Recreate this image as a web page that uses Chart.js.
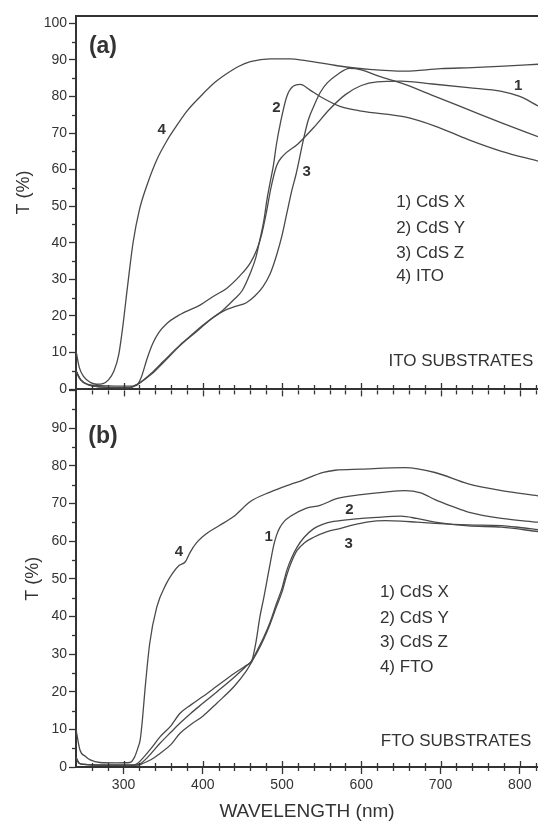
<!DOCTYPE html>
<html>
<head>
<meta charset="utf-8">
<script src="https://cdn.jsdelivr.net/npm/chart.js@4.4.1/dist/chart.umd.min.js"></script>
<style>
  html, body { margin: 0; padding: 0; background: #fff; }
  #wrap { position: relative; width: 538px; height: 825px; overflow: hidden; }
  #wrap canvas { position: absolute; left: 0; }
  #panelA { top: 0; }
  #panelB { top: 380px; }
</style>
</head>
<body>
<div id="wrap">
  <canvas id="panelA" width="538" height="400"></canvas>
  <canvas id="panelB" width="538" height="445"></canvas>
</div>
<script>
/* Transmittance spectra of CdS films, (a) on ITO and (b) on FTO.
   Values, wavelength in nm, T in %. */

// ---- panel (a): ITO substrates ----
const aX_nm = [240,244,250,258,270,290,305,312,316,322,330,337,344,355,367,380,397,413,430,447,460,468,474,480,486,493,500,520,540,560,580,600,620,650,690,735,777,800,823];
const aX_T  = [5,3,1.8,1.1,0.9,0.8,0.8,0.8,0.9,3,8.5,12.5,15.3,18,19.8,21.3,23,25.3,27.5,31,34.5,38,42,48,55,61,63.5,67,71.5,76.5,80.5,83,84,84.2,83.4,82.4,81.4,80,77.4];

const aY_nm = [240,246,255,270,290,308,314,320,335,350,371,390,409,425,439,450,460,467,472,477,481,485,489,493,498,506,514,523,535,548,573,600,655,693,735,777,823];
const aY_T  = [5,2.5,1.2,0.6,0.4,0.4,0.9,1.6,4.3,7.5,12,15.3,18.9,21.5,24.4,27,31.7,36,40.8,46,51.8,56.5,61,67,72.8,80,82.8,83.3,81.8,80,77.3,76,74.4,71.9,68.2,65,62.3];

const aZ_nm = [240,246,255,270,290,308,314,320,335,350,371,390,409,426,440,455,466,476,485,493,500,506,512,518,527,533,540,548,557,570,585,600,621,655,693,735,777,823];
const aZ_T  = [5,2.5,1.2,0.6,0.4,0.4,0.9,1.6,4.0,7.2,11.8,15.6,18.9,21.3,22.5,23.6,25.5,28,31.5,36.5,42,48,54,59,68.2,73.5,77.3,81,83.7,86,87.7,87.3,85.6,83.3,80,76.4,72.8,69];

const aITO_nm = [240,244,250,258,266,274,281,288,294,299,305,312,320,330,342,355,367,380,397,415,430,445,460,485,510,530,570,610,655,700,740,780,823];
const aITO_T  = [10.5,6,3.3,1.8,1.3,1.5,2.5,5,9.5,17,28,40,49,56,62.7,68,72,76,80,83.8,86.2,88.2,89.5,90.3,90.3,89.8,88.4,87.4,86.9,87.6,87.9,88.3,88.8];

// ---- panel (b): FTO substrates ----
const bX_nm = [240,244,250,270,300,312,318,325,335,346,360,371,385,400,418,440,455,462,467,472,477,481,485,489,493,497,503,510,530,548,570,600,630,655,675,693,715,735,777,823];
const bX_T  = [2.5,1,0.7,0.5,0.5,0.5,1,2.5,5,8,11,14.2,16.5,18.7,21.5,24.9,27,28.3,33,39.8,45,49.5,54,58.4,61.5,63.5,65.3,66.5,68.7,69.5,71.3,72.3,73,73.4,72.8,71,69.2,67.7,66,65];

const bY_nm = [240,244,250,270,300,315,322,330,346,360,371,385,400,418,440,455,462,470,477,485,493,500,506,512,519,528,540,552,565,590,620,650,670,693,735,777,823];
const bY_T  = [2.5,1,0.7,0.5,0.5,0.5,1,2.5,6.3,9.3,11.6,14.3,16.9,20,23.9,26.8,28.3,31.5,34.5,38.5,43.4,47.5,52.2,55.5,58.4,61,63.3,64.5,65.2,65.8,66.3,66.6,66,65,64,63.7,62.5];

const bZ_nm = [240,244,250,270,300,318,325,335,346,360,371,385,400,418,440,455,462,470,477,485,493,500,506,512,519,528,540,557,573,590,609,630,650,670,693,735,777,800,823];
const bZ_T  = [2.5,1,0.7,0.5,0.5,0.5,1,2,3.6,6,8.9,11.3,13.5,17,21.5,25.5,28,31,34,38,42.6,46.5,51,54.5,57.5,59.5,61,62.5,63.3,64.3,65.1,65.4,65.3,65,64.7,64.3,64.1,63.6,63];

const bFTO_nm = [240,245,252,258,270,290,308,314,318,321,324,327,333,342,354,362,370,378,384,392,405,420,439,460,485,510,524,552,567,600,655,693,735,777,823];
const bFTO_T  = [10,4.5,2.8,1.9,1.2,1.1,1.2,2.7,5,7.2,13,20.4,32.8,42.5,48.7,51.5,53.5,54.5,57,59.5,62,64,66.5,70.5,73,75,76,78.2,78.8,79.1,79.5,78.2,75.2,73.4,72];

// axis ranges / tick labels
const X_MIN = 240, X_MAX = 823;
const xTickValues = [300, 400, 500, 600, 700, 800];
const legendA = ["1) CdS X", "2) CdS Y", "3) CdS Z", "4) ITO"];
const legendB = ["1) CdS X", "2) CdS Y", "3) CdS Z", "4) FTO"];

const INK = "#333";
const LINE = "#4a4a4a";
const FONT = "Arial, 'Liberation Sans', Helvetica, sans-serif";

function pts(nm, t) { return nm.map((w, i) => ({ x: w, y: t[i] })); }

function series(label, nm, t) {
  return {
    label, data: pts(nm, t),
    borderColor: LINE, borderWidth: 1.3, pointRadius: 0, fill: false,
    cubicInterpolationMode: "monotone",
  };
}

/* small ticks the library does not draw: minor y ticks (every 5),
   x ticks every 20 nm on the shared panel edges, plus the top frame line
   and the text annotations, all placed through the chart's own scales */
const panelDeco = {
  id: "panelDeco",
  afterDraw(chart, args, o) {
    const { ctx, chartArea: a, scales: { x, y } } = chart;
    ctx.save();
    ctx.strokeStyle = INK;
    ctx.lineWidth = 1.3;
    const seg = (x1, y1, x2, y2) => { ctx.beginPath(); ctx.moveTo(x1, y1); ctx.lineTo(x2, y2); ctx.stroke(); };

    for (let v = 5; v <= y.max; v += 10) {
      const py = Math.round(y.getPixelForValue(v)) + 0.5;
      seg(a.left - 4, py, a.left, py);
    }
    for (let v = 260; v <= X_MAX; v += 20) {
      const px = Math.round(x.getPixelForValue(v)) + 0.5;
      const major = v % 100 === 0;
      if (o.tickBottomIn) seg(px, a.bottom, px, a.bottom - (major ? 6 : 4));
      if (o.tickTopIn) seg(px, a.top, px, a.top + (major ? 6 : 4));
      if (o.tickBottomOut && !major) seg(px, a.bottom, px, a.bottom + 4);
    }
    if (o.topFrame) {
      ctx.lineWidth = 2;
      seg(a.left - 1, a.top, a.right, a.top);
    }

    ctx.fillStyle = INK;
    ctx.textBaseline = "middle";
    (o.labels || []).forEach(l => {
      ctx.font = l.font;
      ctx.textAlign = l.align || "center";
      ctx.fillText(l.text, x.getPixelForValue(l.x), y.getPixelForValue(l.y));
    });
    ctx.restore();
  }
};

function makePanel(canvasId, cfg) {
  return new Chart(document.getElementById(canvasId), {
    type: "line",
    data: { datasets: cfg.datasets },
    options: {
      responsive: false, animation: false, devicePixelRatio: 1,
      layout: { padding: { top: cfg.padTop, left: 0, right: 0, bottom: 0 } },
      plugins: { legend: { display: false }, tooltip: { enabled: false }, panelDeco: cfg.deco },
      scales: {
        x: {
          type: "linear", min: X_MIN, max: X_MAX,
          afterFit: s => { s.height = cfg.xHeight; },
          afterBuildTicks: s => { s.ticks = xTickValues.map(v => ({ value: v })); },
          ticks: { display: cfg.showX, color: INK, font: { family: FONT, size: 14 }, padding: 3, maxRotation: 0 },
          grid: { drawOnChartArea: false, drawTicks: cfg.showX, tickLength: 7, tickColor: INK, tickWidth: 1.3 },
          border: { display: true, color: INK, width: 2 },
          title: { display: cfg.showX, text: "WAVELENGTH (nm)", color: INK, font: { family: FONT, size: 19 }, padding: { top: 0, bottom: 2 } },
        },
        y: {
          min: 0, max: cfg.yMax,
          afterFit: s => { s.width = 76; },
          ticks: {
            stepSize: 10, includeBounds: false, color: INK, padding: 2,
            font: { family: FONT, size: 14 },
            callback: v => (v % 10 === 0 && v <= cfg.yTopLabel) ? String(v) : "",
          },
          grid: { drawOnChartArea: false, tickLength: 7, tickColor: INK, tickWidth: 1.3 },
          border: { display: true, color: INK, width: 2 },
          title: { display: true, text: cfg.yTitle, color: INK, font: { family: FONT, size: 18 }, padding: { top: cfg.yTitlePad, bottom: 0 } },
        },
      },
    },
    plugins: [panelDeco],
  });
}

const numFont = "bold 15px " + FONT;
const legFont = "17px " + FONT;
const tagFont = "bold 23px " + FONT;

makePanel("panelA", {
  padTop: 16, xHeight: 11, showX: false, yMax: 102, yTopLabel: 100,
  yTitle: "    T (%)", yTitlePad: 13,
  datasets: [
    series("CdS X", aX_nm, aX_T), series("CdS Y", aY_nm, aY_T),
    series("CdS Z", aZ_nm, aZ_T), series("ITO", aITO_nm, aITO_T),
  ],
  deco: {
    topFrame: true, tickBottomIn: true,
    labels: [
      { text: "(a)", x: 274, y: 93.7, font: tagFont },
      { text: "1", x: 798, y: 83, font: numFont },
      { text: "2", x: 493, y: 77, font: numFont },
      { text: "3", x: 531, y: 59.5, font: numFont },
      { text: "4", x: 348, y: 71, font: numFont },
      ...legendA.map((t, i) => ({ text: t, x: 644, y: [51, 44, 37, 30.7][i], font: legFont, align: "left" })),
      { text: "ITO SUBSTRATES", x: 817, y: 7.5, font: legFont, align: "right" },
    ],
  },
});

makePanel("panelB", {
  padTop: 10, xHeight: 58, showX: true, yMax: 100, yTopLabel: 90,
  yTitle: "T (%)", yTitlePad: 22,
  datasets: [
    series("CdS X", bX_nm, bX_T), series("CdS Y", bY_nm, bY_T),
    series("CdS Z", bZ_nm, bZ_T), series("FTO", bFTO_nm, bFTO_T),
  ],
  deco: {
    tickTopIn: true, tickBottomIn: true, tickBottomOut: true,
    labels: [
      { text: "(b)", x: 274, y: 87.7, font: tagFont },
      { text: "1", x: 483, y: 61, font: numFont },
      { text: "2", x: 585, y: 68.3, font: numFont },
      { text: "3", x: 584, y: 59.3, font: numFont },
      { text: "4", x: 370, y: 57, font: numFont },
      ...legendB.map((t, i) => ({ text: t, x: 623.5, y: [46.4, 39.5, 33.1, 26.6][i], font: legFont, align: "left" })),
      { text: "FTO SUBSTRATES", x: 814.5, y: 6.7, font: legFont, align: "right" },
    ],
  },
});
</script>
</body>
</html>
